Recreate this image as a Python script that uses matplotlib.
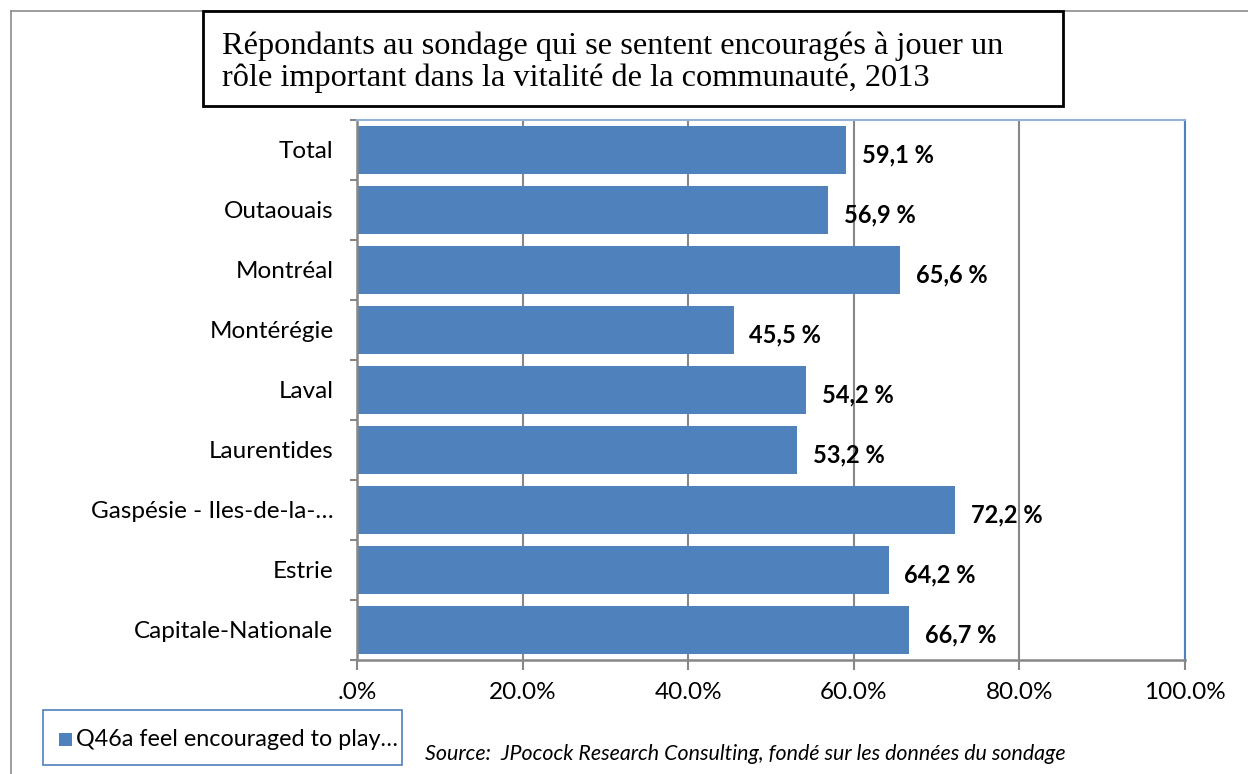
import matplotlib
matplotlib.use("Agg")
import matplotlib.pyplot as plt
from matplotlib.lines import Line2D
from matplotlib.patches import Rectangle

# Survey results by region (top to bottom as displayed)
regions = [
    "Total",
    "Outaouais",
    "Montréal",
    "Montérégie",
    "Laval",
    "Laurentides",
    "Gaspésie - Iles-de-la-…",
    "Estrie",
    "Capitale-Nationale",
]
values = [59.1, 56.9, 65.6, 45.5, 54.2, 53.2, 72.2, 64.2, 66.7]
x_ticks = [0, 20, 40, 60, 80, 100]
x_tick_labels = [".0%", "20.0%", "40.0%", "60.0%", "80.0%", "100.0%"]

title = ("Répondants au sondage qui se sentent encouragés à jouer un\n"
         "rôle important dans la vitalité de la communauté, 2013")
legend_label = "Q46a feel encouraged to play…"
source = "Source:  JPocock Research Consulting, fondé sur les données du sondage"

BAR = "#4f81bd"
GRID = "#878787"
SANS = ["Lato", "DejaVu Sans"]
SERIF = ["Liberation Serif", "DejaVu Serif"]

W, H = 1248, 774
fig = plt.figure(figsize=(W / 100, H / 100), dpi=100)


def fx(px):
    return px / W


def fy(py):
    return 1 - py / H


# Outer chart frame (top and left edges visible)
fig.add_artist(Line2D([fx(11), 1.0], [fy(11), fy(11)], color="#8c8c8c", lw=1.2))
fig.add_artist(Line2D([fx(11), fx(11)], [fy(11), 0.0], color="#8c8c8c", lw=1.2))

# Plot area
left, right, top, bottom = 357, 1185, 120, 660
ax = fig.add_axes([fx(left), fy(bottom), fx(right - left), (bottom - top) / H])

pos = list(range(len(regions)))
ax.barh(pos, values, height=0.79, color=BAR, zorder=2)
ax.set_ylim(len(regions) - 0.5, -0.5)
ax.set_xlim(0, 100)

ax.set_xticks(x_ticks)
ax.set_xticklabels(x_tick_labels, fontsize=17.5, family=SANS)
ax.set_yticks(pos)
ax.set_yticklabels(regions, fontsize=17.5, family=SANS)
ax.set_yticks([p + 0.5 for p in pos[:-1]] + [-0.5, len(regions) - 0.5], minor=True)

ax.tick_params(axis="y", which="major", length=0, pad=17)
ax.tick_params(axis="y", which="minor", length=5, color=GRID, width=1.5)
ax.tick_params(axis="x", which="major", length=7, color=GRID, width=1.5,
               pad=9, direction="out")

ax.grid(axis="x", color=GRID, lw=1.5, zorder=1)
ax.set_axisbelow(True)

for side in ("left", "bottom"):
    ax.spines[side].set_color(GRID)
    ax.spines[side].set_linewidth(1.8)
ax.spines["top"].set_color("#95b3d7")
ax.spines["top"].set_linewidth(1.5)
ax.spines["right"].set_color("#4f81bd")
ax.spines["right"].set_linewidth(1.5)

for p, v in zip(pos, values):
    ax.text(v + 1.9, p + 0.08, f"{v:.1f} %".replace(".", ","),
            va="center", ha="left", fontsize=17, fontweight="bold",
            family=SANS, zorder=4)

# Title box
fig.add_artist(Rectangle((fx(203), fy(106)), fx(1063 - 203), (106 - 11) / H,
                         fill=True, facecolor="white", edgecolor="black",
                         lw=2, zorder=5))
fig.text(fx(222), fy(62), title, ha="left", va="center", fontsize=23.3,
         family=SERIF, linespacing=1.1, zorder=6)

# Legend box
fig.add_artist(Rectangle((fx(43), fy(765)), fx(402 - 43), (765 - 710) / H,
                         fill=True, facecolor="white", edgecolor="#4f81bd",
                         lw=1.2, zorder=5))
fig.add_artist(Rectangle((fx(59), fy(746)), fx(13), 13 / H,
                         facecolor=BAR, edgecolor="none", zorder=6))
fig.text(fx(76), fy(739), legend_label, ha="left", va="center",
         fontsize=16.8, family=SANS, zorder=6)

# Source note
fig.text(fx(425), fy(754), source, ha="left", va="center", fontsize=15.4,
         style="italic", family=SANS)

fig.savefig("out.png", dpi=100)
